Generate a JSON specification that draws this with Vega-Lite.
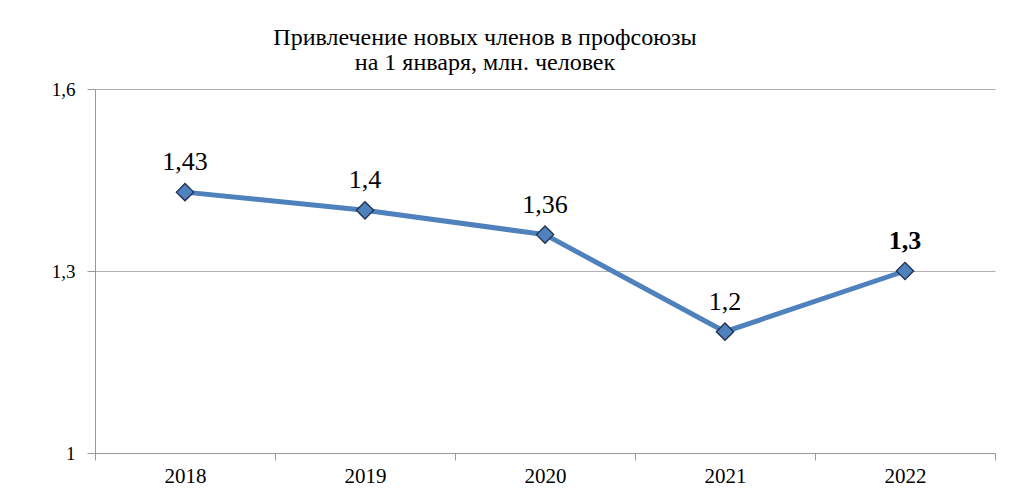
{
  "$schema": "https://vega.github.io/schema/vega-lite/v6.json",
  "autosize": "none",
  "width": 900,
  "height": 364,
  "padding": {"left": 95, "top": 89, "right": 29, "bottom": 46},
  "background": "white",
  "title": {
    "text": ["Привлечение новых членов в профсоюзы", "на 1 января, млн. человек"],
    "font": "Liberation Serif",
    "fontSize": 24,
    "fontWeight": "normal",
    "color": "black",
    "anchor": "middle",
    "dx": -60,
    "offset": 5,
    "lineHeight": 25
  },
  "config": {
    "locale": {"number": {"decimal": ",", "thousands": " ", "grouping": [3], "currency": ["", ""]}},
    "view": {"stroke": null},
    "axis": {
      "labelFont": "Liberation Serif",
      "labelColor": "black",
      "domainColor": "#999999",
      "tickColor": "#999999",
      "gridColor": "#b0b0b0",
      "title": null
    }
  },
  "data": {
    "values": [
      {"year": "2018", "value": 1.43},
      {"year": "2019", "value": 1.4},
      {"year": "2020", "value": 1.36},
      {"year": "2021", "value": 1.2},
      {"year": "2022", "value": 1.3}
    ]
  },
  "encoding": {
    "x": {
      "field": "year",
      "type": "nominal",
      "sort": null,
      "scale": {"type": "band", "paddingInner": 0, "paddingOuter": 0},
      "axis": {"labelAngle": 0, "tickBand": "extent", "tickSize": 7, "labelPadding": 5, "labelFontSize": 21, "grid": false}
    },
    "y": {
      "field": "value",
      "type": "quantitative",
      "scale": {"domain": [1, 1.6], "nice": false, "zero": false},
      "axis": {"values": [1, 1.3, 1.6], "format": "~g", "tickSize": 8, "labelPadding": 12, "labelFontSize": 19, "grid": true}
    }
  },
  "layer": [
    {
      "mark": {"type": "line", "color": "#4F81BD", "strokeWidth": 5}
    },
    {
      "mark": {"type": "point", "shape": "diamond", "filled": true, "fill": "#4F81BD", "stroke": "#1F2F4F", "strokeWidth": 1.3, "size": 300, "opacity": 1}
    },
    {
      "transform": [{"filter": "datum.year != '2022'"}],
      "mark": {"type": "text", "font": "Liberation Serif", "fontSize": 26, "color": "black", "dy": -30},
      "encoding": {"text": {"field": "value", "type": "quantitative", "format": "~g"}}
    },
    {
      "transform": [{"filter": "datum.year == '2022'"}],
      "mark": {"type": "text", "font": "Liberation Serif", "fontSize": 26, "fontWeight": "bold", "color": "black", "dy": -30},
      "encoding": {"text": {"field": "value", "type": "quantitative", "format": "~g"}}
    }
  ]
}
